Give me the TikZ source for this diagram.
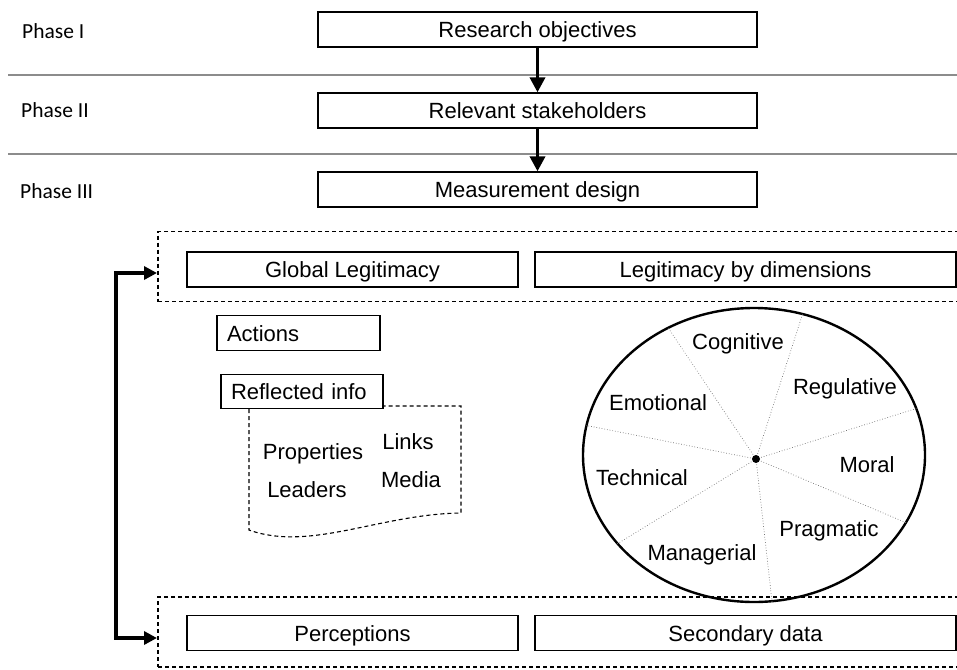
\documentclass[tikz,border=0pt]{standalone}
\usepackage{fontspec}
\setmainfont{Liberation Sans}
\newfontfamily\phasefont{Carlito}
\usetikzlibrary{arrows.meta,shapes.geometric}
\begin{document}
\begin{tikzpicture}[x=1pt,y=-1pt,
  box/.style={draw, line width=1.3pt, minimum height=35pt, inner sep=0pt, text height=16pt, text depth=0pt, font=\fontsize{22}{25}\selectfont},
  lbox/.style={box, align=left, inner xsep=10pt},
  dbox/.style={draw, dash pattern=on 4pt off 3pt, line width=1.1pt, inner sep=0pt},
  phase/.style={anchor=west, inner sep=0pt, text height=14pt, text depth=0pt, font=\phasefont\fontsize{21.5}{24}\selectfont},
  sep/.style={draw=black!45, line width=1.1pt},
  flow/.style={line width=3.5pt, -{Triangle[length=15pt,width=15pt]}},
  dim/.style={font=\fontsize{22}{25}\selectfont, inner sep=0pt, text height=16pt, text depth=0pt},
  ray/.style={draw=black!55, line width=0.7pt, dotted},
  doc/.style={dash pattern=on 4pt off 3pt, line width=1.1pt}
]
\useasboundingbox (0,0) rectangle (957,669);
\clip (0,0) rectangle (957,669);

% phase labels and separators
\node[phase] (p1) at (22,32) {Phase I};
\node[phase] (p2) at (21,110) {Phase II};
\node[phase] (p3) at (20,191) {Phase III};
\draw[sep] (8,75) -- (957,75);
\draw[sep] (8,154) -- (957,154);

% main flow
\node[box, minimum width=439pt] (ro) at (537.5,29.5) {Research objectives};
\node[box, minimum width=439pt] (rs) at (537.5,110.5) {Relevant stakeholders};
\node[box, minimum width=439pt] (md) at (537.5,189.5) {Measurement design};
\draw[flow] (ro) -- (rs);
\draw[flow] (rs) -- (md);

% dashed groups
\node[dbox, minimum width=817pt, minimum height=70pt] (top) at (566.5,266.5) {};
\node[dbox, minimum width=817pt, minimum height=70pt] (bot) at (566.5,632) {};
\node[box, minimum width=331pt] (gl) at (352.5,269.5) {Global Legitimacy};
\node[box, minimum width=421pt] (ld) at (745.5,269.5) {Legitimacy by dimensions};
\node[box, minimum width=331pt] (pe) at (352.5,633) {Perceptions};
\node[box, minimum width=421pt] (sd) at (745.5,633) {Secondary data};

% feedback arrow
\coordinate (fa) at (157,273);
\coordinate (fb) at (157,638);
\draw[line width=3.5pt, {Triangle[length=13pt,width=13pt]}-{Triangle[length=13pt,width=13pt]}] (fa) -- (116,273) |- (fb);

% actions / reflected info
\node[lbox, text width=143pt, minimum height=35pt] (ac) at (298.5,333) {Actions};
\node[lbox, text width=142pt, minimum height=34pt] (ri) at (302,391.5) {Reflected info};
\draw[doc] (249,409) -- (249,530) .. controls (310,552) and (380,514) .. (461,513) -- (461,406) -- (384,406);
\node[dim] (pr) at (313,451) {Properties};
\node[dim] (le) at (307,489) {Leaders};
\node[dim] (li) at (408,441) {Links};
\node[dim] (me) at (411,479) {Media};

% legitimacy wheel
\node[draw, ellipse, line width=2.4pt, minimum width=342pt, minimum height=294pt, inner sep=0pt] (ell) at (754,455) {};
\coordinate (c) at (756,459);
\foreach \a in {124.5,71,16.8,-24.7,-83,213.7,170.4}
  \draw[ray] (c) -- (ell.\a);
\fill (c) circle (4pt);
\node[dim] (cog) at (738,341) {Cognitive};
\node[dim] (reg) at (845,386) {Regulative};
\node[dim] (emo) at (658,402) {Emotional};
\node[dim] (mor) at (867,464) {Moral};
\node[dim] (tec) at (642,477) {Technical};
\node[dim] (pra) at (829,528) {Pragmatic};
\node[dim] (man) at (702,552) {Managerial};
\end{tikzpicture}
\end{document}
